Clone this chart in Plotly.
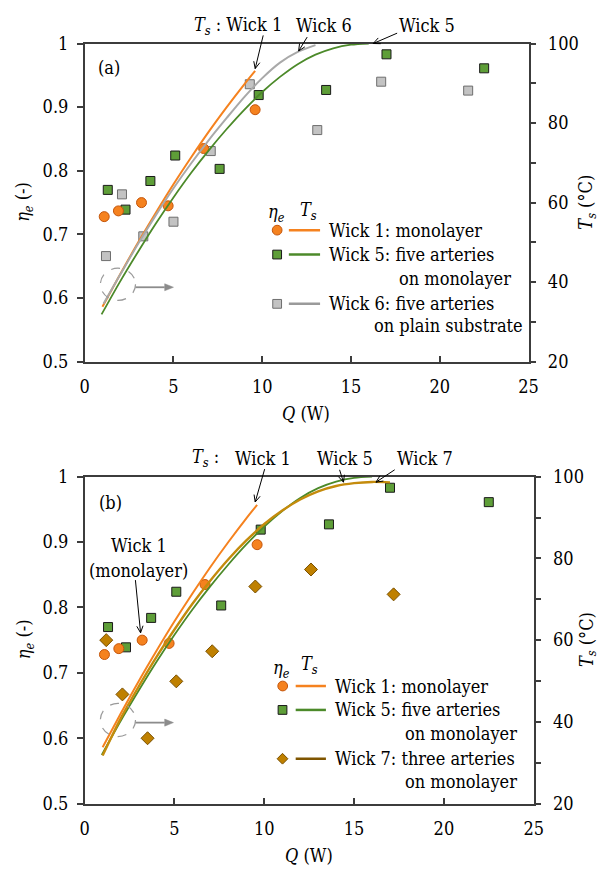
import math
import plotly.graph_objects as go

# ---------------- data ----------------
# efficiency eta_e (left axis) vs heat load Q
Q_w1 = [1.1, 1.9, 3.2, 4.7, 6.7, 9.6]
eta_w1 = [0.728, 0.737, 0.750, 0.745, 0.835, 0.896]
Q_w5 = [1.3, 2.3, 3.7, 5.1, 7.6, 9.8, 13.6, 17.0, 22.5]
eta_w5 = [0.770, 0.739, 0.784, 0.824, 0.803, 0.919, 0.927, 0.983, 0.961]
Q_w6 = [1.2, 2.1, 3.3, 5.0, 7.1, 9.3, 13.1, 16.7, 21.6]
eta_w6 = [0.666, 0.763, 0.697, 0.720, 0.831, 0.936, 0.864, 0.940, 0.926]
Q_w7 = [1.2, 2.1, 3.5, 5.1, 7.1, 9.5, 12.6, 17.2]
eta_w7 = [0.750, 0.667, 0.600, 0.687, 0.733, 0.832, 0.858, 0.820]

# surface temperature Ts (right axis)
Q_ts1 = [1.0, 2, 3, 4, 5, 6, 7, 8, 9, 9.6]
ts1 = [33.8, 42.0, 49.9, 57.4, 64.6, 71.4, 77.9, 84.0, 89.8, 93.1]
Q_ts5 = [0.95, 2, 3, 4, 5, 6, 7, 8, 9, 10, 11, 12, 13, 14, 15, 16.0]
ts5 = [31.9, 40.2, 47.6, 54.7, 61.3, 67.5, 73.2, 78.5, 83.4, 87.8, 91.6, 94.8, 97.2, 98.8, 99.7, 100.0]
Q_ts6 = [1.06, 2, 3, 4, 5, 6, 7, 8, 9, 10, 11, 12, 13.0]
ts6 = [34.6, 41.9, 49.6, 56.8, 63.6, 69.9, 75.8, 81.3, 86.6, 91.3, 95.2, 97.9, 99.6]
Q_ts7 = [1.0, 2, 3, 4, 5, 6, 7, 8, 9, 10, 11, 12, 13, 14, 15, 16, 17.0]
ts7 = [31.8, 40.8, 48.6, 55.9, 62.6, 68.9, 74.6, 79.8, 84.4, 88.4, 91.7, 94.4, 96.4, 97.7, 98.4, 98.7, 98.6]

x_ticks = [0, 5, 10, 15, 20, 25]
eta_ticks = [0.5, 0.6, 0.7, 0.8, 0.9, 1.0]
eta_labels = ["0.5", "0.6", "0.7", "0.8", "0.9", "1"]
ts_ticks = [20, 40, 60, 80, 100]

# ---------------- style ----------------
W, H = 611, 881
FONT = "DejaVu Serif Condensed, DejaVu Serif"
FS = 18
AX = "#3c3c3c"
C_OR, C_OR_E = "#F5821F", "#C4560C"
C_GR, C_GR_L = "#5E9E38", "#4C8A2A"
C_GY, C_GY_E, C_GY_L = "#C3C3C3", "#6E6E6E", "#A9A9A9"
C_BR, C_BR_E, C_BR_L, C_BR_LEG = "#BF8000", "#7A5000", "#C48B0C", "#7F5500"


def X(px):
    return px / W


def Y(py):
    return 1 - py / H


fig = go.Figure()


def mk(xs, ys, sym, size, fill, edge, xa, ya):
    fig.add_trace(go.Scatter(x=xs, y=ys, mode="markers", xaxis=xa, yaxis=ya,
                             marker=dict(symbol=sym, size=size, color=fill,
                                         line=dict(color=edge, width=1)),
                             showlegend=False, hoverinfo="skip"))


def ln(xs, ys, color, width, xa, ya):
    fig.add_trace(go.Scatter(x=xs, y=ys, mode="lines", xaxis=xa, yaxis=ya,
                             line=dict(color=color, width=width, shape="spline", smoothing=0.8),
                             showlegend=False, hoverinfo="skip"))


# panel (a)
ln(Q_ts1, ts1, C_OR, 2, "x", "y2")
ln(Q_ts6, ts6, C_GY_L, 2, "x", "y2")
ln(Q_ts5, ts5, C_GR_L, 1.8, "x", "y2")
mk(Q_w6, eta_w6, "square", 9, C_GY, C_GY_E, "x", "y")
mk(Q_w5, eta_w5, "square", 9, C_GR, "#1a1a1a", "x", "y")
mk(Q_w1, eta_w1, "circle", 10, C_OR, C_OR_E, "x", "y")

# panel (b)
ln(Q_ts1, ts1, C_OR, 2, "x2", "y4")
ln(Q_ts5, ts5, C_GR_L, 1.8, "x2", "y4")
ln(Q_ts7, ts7, C_BR_L, 2.4, "x2", "y4")
mk(Q_w7, eta_w7, "diamond", 10, C_BR, C_BR_E, "x2", "y3")
mk(Q_w5, eta_w5, "square", 9, C_GR, "#1a1a1a", "x2", "y3")
mk(Q_w1, eta_w1, "circle", 10, C_OR, C_OR_E, "x2", "y3")

tickfont = dict(family=FONT, size=FS, color="black")


def xax(domain, anchor):
    return dict(domain=domain, anchor=anchor, range=[0, 25], tickvals=x_ticks,
                ticks="inside", ticklen=6, tickwidth=1.5, tickcolor=AX,
                showline=True, linecolor=AX, linewidth=1.5, mirror=True,
                showgrid=False, zeroline=False, tickfont=tickfont, ticklabelstandoff=8)


def yax(domain, anchor):
    return dict(domain=domain, anchor=anchor, range=[0.5, 1.0], tickvals=eta_ticks,
                ticktext=eta_labels, ticks="outside", ticklen=6, tickwidth=1.5, tickcolor=AX,
                showline=True, linecolor=AX, linewidth=1.5, showgrid=False,
                zeroline=False, tickfont=tickfont, ticklabelstandoff=5)


def y2ax(over, anchor):
    return dict(overlaying=over, anchor=anchor, side="right", range=[20, 100],
                tickvals=ts_ticks, ticks="outside", ticklen=6,
                tickwidth=1.5, tickcolor=AX, showline=True, linecolor=AX, linewidth=1.5,
                minor=dict(ticks="outside", ticklen=6, tickwidth=1.5, tickcolor=AX,
                           tick0=20, dtick=10, showgrid=False),
                showgrid=False, zeroline=False, tickfont=tickfont, ticklabelstandoff=8)


fig.update_layout(
    width=W, height=H, autosize=False,
    margin=dict(l=0, r=0, t=0, b=0),
    paper_bgcolor="white", plot_bgcolor="white",
    font=dict(family=FONT, size=FS, color="black"),
    xaxis=xax([X(81.7), X(536.7)], "y"),
    yaxis=yax([Y(359.3), Y(33.3)], "x"),
    yaxis2=y2ax("y", "x"),
    xaxis2=xax([X(81.7), X(542)], "y3"),
    yaxis3=yax([Y(812), Y(477)], "x2"),
    yaxis4=y2ax("y3", "x2"),
)

ann = []
shapes = []


def txt(px, py, text, xanchor="center", angle=0, size=FS):
    ann.append(dict(x=X(px), y=Y(py), xref="paper", yref="paper", text=text,
                    showarrow=False, xanchor=xanchor, yanchor="middle",
                    textangle=angle, font=dict(family=FONT, size=size, color="black")))


def P(px, py):
    return "{:.5f},{:.5f}".format(X(px), Y(py))


def arrow(tail, tip, color="black", filled=False, width=1.0, hl=7.0, hw=3.2):
    dx, dy = tip[0] - tail[0], tip[1] - tail[1]
    d = math.hypot(dx, dy)
    ux, uy = dx / d, dy / d
    nx, ny = -uy, ux
    bx, by = tip[0] - hl * ux, tip[1] - hl * uy
    p1 = (bx + hw * nx, by + hw * ny)
    p2 = (bx - hw * nx, by - hw * ny)
    end = (bx, by) if filled else tip
    shapes.append(dict(type="line", xref="paper", yref="paper", x0=X(tail[0]), y0=Y(tail[1]),
                       x1=X(end[0]), y1=Y(end[1]), line=dict(color=color, width=width)))
    if filled:
        path = "M{} L{} L{} Z".format(P(*p1), P(*tip), P(*p2))
        shapes.append(dict(type="path", xref="paper", yref="paper", path=path,
                           fillcolor=color, line=dict(color=color, width=0.5)))
    else:
        path = "M{} L{} L{}".format(P(*p1), P(*tip), P(*p2))
        shapes.append(dict(type="path", xref="paper", yref="paper", path=path,
                           line=dict(color=color, width=width)))


def leg_line(x0, x1, py, color, width=2.5):
    shapes.append(dict(type="line", xref="paper", yref="paper", x0=X(x0), x1=X(x1),
                       y0=Y(py), y1=Y(py), line=dict(color=color, width=width)))


def leg_circle(px, py, r, fill, edge):
    shapes.append(dict(type="circle", xref="paper", yref="paper", x0=X(px - r), x1=X(px + r),
                       y0=Y(py + r), y1=Y(py - r), fillcolor=fill, line=dict(color=edge, width=1)))


def leg_square(px, py, h, fill, edge):
    shapes.append(dict(type="rect", xref="paper", yref="paper", x0=X(px - h), x1=X(px + h),
                       y0=Y(py + h), y1=Y(py - h), fillcolor=fill, line=dict(color=edge, width=1)))


def leg_diamond(px, py, h, fill, edge):
    path = "M{} L{} L{} L{} Z".format(P(px, py - h), P(px + h, py), P(px, py + h), P(px - h, py))
    shapes.append(dict(type="path", xref="paper", yref="paper", path=path, fillcolor=fill,
                       line=dict(color=edge, width=1)))


def dashed_ring(cx, cy, rx, ry):
    shapes.append(dict(type="circle", xref="paper", yref="paper", x0=X(cx - rx), x1=X(cx + rx),
                       y0=Y(cy + ry), y1=Y(cy - ry), line=dict(color="#9a9a9a", width=1.2, dash="dash")))


ETA = "<i>η</i><sub><i>e</i></sub>"
TS = "<i>T</i><sub><i>s</i></sub>"

# ---- axis titles
for cy in (196, 644):
    txt(20, cy, ETA + " (-)", angle=-90)
    txt(597, cy, TS + " (°C)", angle=-90)
txt(309, 412, "<i>Q</i> (W)")
txt(312, 865, "<i>Q</i> (W)")

# ---- panel (a)
txt(107, 58, "(a)")
txt(239, 15, TS + " : Wick 1")
txt(327, 15, "Wick 6")
txt(433, 15, "Wick 5")
arrow((264.7, 25), (256.5, 59))
arrow((309.8, 26.7), (301, 41))
arrow((402, 22.7), (377.5, 33.3))
txt(278, 207, ETA)
txt(311, 205, TS)
leg_circle(279, 224.5, 5, C_OR, C_OR_E)
leg_line(291, 323, 224.5, C_OR)
txt(330, 224.5, "Wick 1: monolayer", "left")
leg_square(279, 249.5, 4.5, C_GR, "#1a1a1a")
leg_line(291, 323, 249.5, C_GR_L)
txt(330, 249.5, "Wick 5: five arteries", "left")
txt(401.5, 274.3, "on monolayer", "left")
leg_square(279, 300, 4.5, C_GY, C_GY_E)
leg_line(291, 323, 300, "#9a9a9a")
txt(330, 300, "Wick 6: five arteries", "left")
txt(376, 322.3, "on plain substrate", "left")
dashed_ring(115.8, 280, 18, 16.5)
arrow((133.7, 283), (172.7, 283), color="#8c8c8c", filled=True, width=1.8, hl=9, hw=3.6)

# ---- panel (b)
txt(108, 504, "(b)")
txt(206, 458, TS + " :")
txt(264, 458, "Wick 1")
txt(348.4, 458, "Wick 5")
txt(430.6, 458, "Wick 7")
arrow((266.2, 469.3), (256.5, 503))
arrow((343, 470), (347, 482.7))
arrow((399.5, 470), (380.3, 482.7))
txt(137, 548, "Wick 1")
txt(137, 573, "(monolayer)")
arrow((133.7, 583), (139, 637))
txt(283, 674, ETA)
txt(312, 670, TS)
leg_circle(284.7, 691.5, 5, C_OR, C_OR_E)
leg_line(298, 329, 691.5, C_OR)
txt(336, 691.5, "Wick 1: monolayer", "left")
leg_square(284.5, 716, 4.5, C_GR, "#1a1a1a")
leg_line(298, 329, 716, C_GR_L)
txt(336, 716, "Wick 5: five arteries", "left")
txt(408.4, 740, "on monolayer", "left")
leg_diamond(284.5, 766, 5.5, C_BR, C_BR_E)
leg_line(298, 329, 766, C_BR_LEG)
txt(336, 766, "Wick 7: three arteries", "left")
txt(408.4, 789, "on monolayer", "left")
dashed_ring(115.8, 726.3, 18, 17)
arrow((133.7, 729), (172.7, 729), color="#8c8c8c", filled=True, width=1.8, hl=9, hw=3.6)

fig.update_layout(annotations=ann, shapes=shapes)
fig.write_html("out.html")
